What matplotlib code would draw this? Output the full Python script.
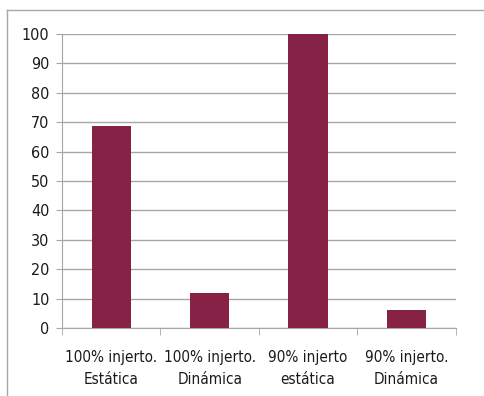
import numpy as np
import matplotlib.pyplot as plt
from matplotlib.lines import Line2D

plt.rcParams['font.family'] = ['DejaVu Sans']
plt.rcParams['font.stretch'] = 'condensed'

categorias = ['100% injerto.\nEstática', '100% injerto.\nDinámica',
              '90% injerto\nestática', '90% injerto.\nDinámica']
valores = [68.6, 12, 100, 6]
yticks = [0, 10, 20, 30, 40, 50, 60, 70, 80, 90, 100]

color_barra = '#862245'
gris = '#a6a6a6'

fig = plt.figure(figsize=(4.85, 3.96), dpi=100)
ax = fig.add_axes([62/485, 1 - 328/396, (455.7 - 62)/485, (328 - 34)/396])

x = np.arange(len(categorias))
ax.bar(x, valores, width=0.4, color=color_barra, zorder=3)

ax.set_xlim(-0.5, len(categorias) - 0.5)
ax.set_ylim(0, 100)
ax.set_yticks(yticks)
ax.yaxis.grid(True, color=gris, linewidth=1, zorder=0)

ax.set_xticks(x)
ax.set_xticklabels(categorias, fontsize=11, color='#1a1a1a', linespacing=1.55)
ax.set_xticks(np.arange(len(categorias) + 1) - 0.5, minor=True)
ax.tick_params(axis='x', which='major', length=0, pad=16)
ax.tick_params(axis='x', which='minor', length=5, color=gris, direction='out')
ax.tick_params(axis='y', length=4, color=gris, direction='out', labelsize=11.5,
               labelcolor='#1a1a1a', pad=5)

for lado in ['top', 'right']:
    ax.spines[lado].set_visible(False)
ax.spines['left'].set_color(gris)
ax.spines['bottom'].set_color(gris)

# marco exterior
fig.add_artist(Line2D([7/485, 7/485], [0, 1 - 10/396], color=gris, linewidth=1))
fig.add_artist(Line2D([7/485, 1], [1 - 10/396, 1 - 10/396], color=gris, linewidth=1))

fig.savefig('out.png', dpi=100)
